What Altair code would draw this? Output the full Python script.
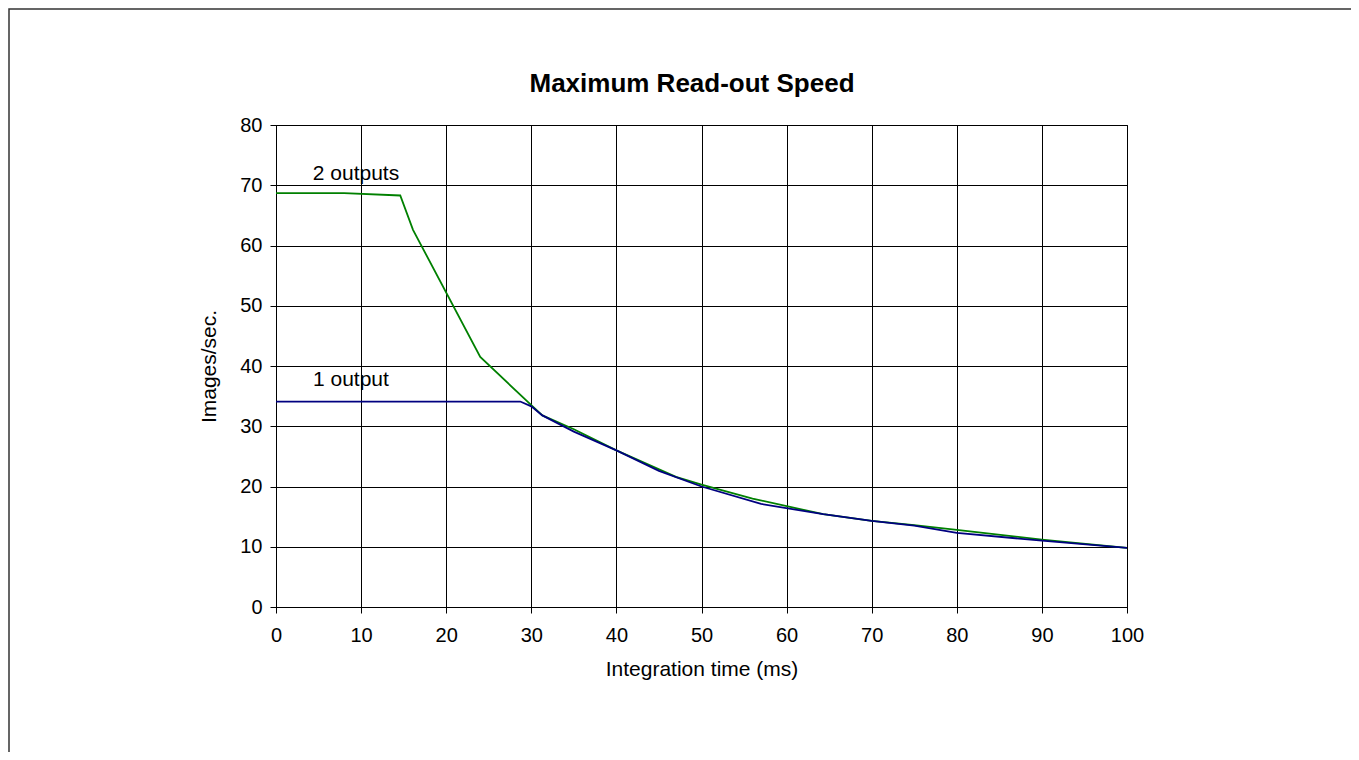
import altair as alt
import pandas as pd

# 2 outputs (green)
x2 = [0, 8, 14.6, 16.1, 24.0, 30.0, 31.3, 35.0, 40.0, 47.0, 50.0, 56.0, 64.3, 70.0, 75.0, 80.0, 90.0, 100.0]
y2 = [68.7, 68.7, 68.3, 62.6, 41.5, 33.5, 31.8, 29.5, 26.0, 21.6, 20.3, 18.0, 15.4, 14.3, 13.6, 12.8, 11.2, 9.8]
# 1 output (navy)
x1 = [0, 28.7, 30.0, 31.3, 35.0, 40.0, 45.0, 50.0, 57.0, 64.3, 70.0, 75.0, 80.0, 90.0, 100.0]
y1 = [34.1, 34.1, 33.3, 31.8, 29.1, 26.0, 22.6, 20.0, 17.1, 15.4, 14.3, 13.5, 12.3, 11.0, 9.8]

label_text = ["2 outputs", "1 output"]
label_x = [9.4, 8.8]
label_y = [71.8, 37.7]

title_text = ["Maximum Read-out Speed"]

df = pd.concat([
    pd.DataFrame({"t": x2, "v": y2, "s": "2 outputs"}),
    pd.DataFrame({"t": x1, "v": y1, "s": "1 output"}),
])
labels = pd.DataFrame({"t": label_x, "v": label_y, "txt": label_text})

FONT = "Liberation Sans"

xs = alt.Scale(domain=[0, 100], nice=False)
ys = alt.Scale(domain=[0, 80], nice=False)

lines = alt.Chart(df).mark_line(strokeWidth=1.8, clip=True).encode(
    x=alt.X("t:Q", scale=xs,
            axis=alt.Axis(values=list(range(0, 101, 10)), title="Integration time (ms)",
                          labelPadding=12, titlePadding=13, labelFlush=False,
                          labelOverlap=False)),
    y=alt.Y("v:Q", scale=ys,
            axis=alt.Axis(values=list(range(0, 81, 10)), title="Images/sec.",
                          labelPadding=8, titlePadding=20, labelFlush=False,
                          labelOverlap=False)),
    color=alt.Color("s:N", scale=alt.Scale(domain=["2 outputs", "1 output"],
                                           range=["#008000", "#000080"]), legend=None),
    order=alt.Order("t:Q"),
)

text = alt.Chart(labels).mark_text(font=FONT, fontSize=21, color="black",
                                   baseline="middle", align="center").encode(
    x=alt.X("t:Q", scale=xs), y=alt.Y("v:Q", scale=ys), text="txt:N")

title = alt.Chart(pd.DataFrame({"txt": title_text})).mark_text(
    font=FONT, fontSize=26, fontWeight="bold", color="black",
    baseline="alphabetic", align="center").encode(
    x=alt.value(416), y=alt.value(-33), text="txt:N")

frame = alt.Chart(pd.DataFrame({"a": [0]})).mark_rect(
    fill=None, stroke="#333333", strokeWidth=1.5, clip=False).encode(
    x=alt.value(-267), x2=alt.value(1100), y=alt.value(-116), y2=alt.value(700))

chart = alt.layer(frame, lines, text, title).properties(
    width=851, height=482,
    autosize=alt.AutoSizeParams(type="none"),
    padding={"left": 268, "top": 117, "right": 224, "bottom": 145},
    background="white",
).configure_axis(
    labelFont=FONT, labelFontSize=20, labelColor="black",
    titleFont=FONT, titleFontSize=21, titleFontWeight="normal", titleColor="black",
    gridColor="black", gridOpacity=1, gridWidth=1,
    domainColor="black", tickColor="black", tickSize=6,
).configure_view(stroke="black", strokeWidth=1)

chart.save("out.html", embed_options={"renderer": "svg", "actions": False})
